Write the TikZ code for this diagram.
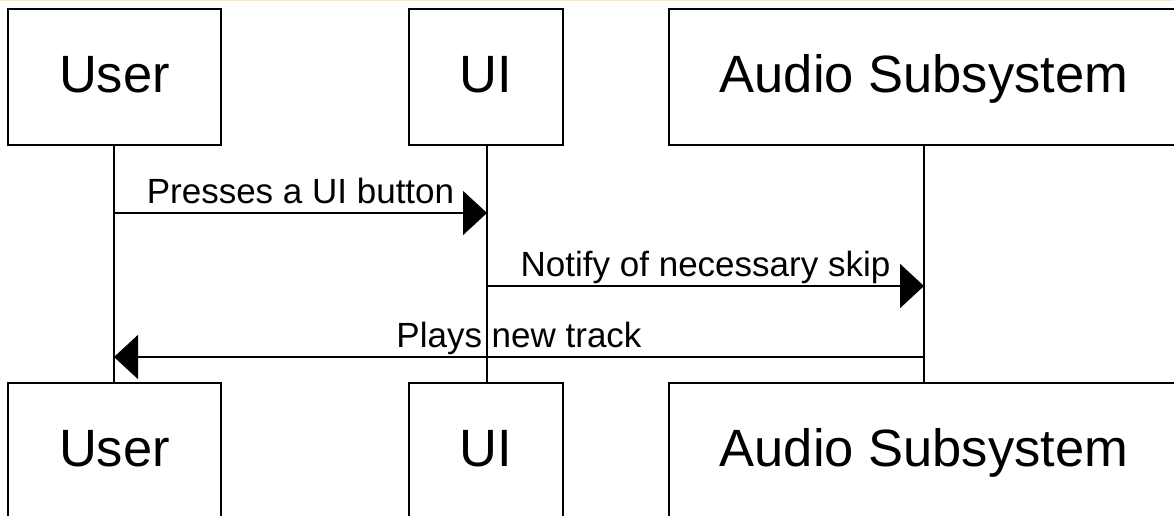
\documentclass[tikz,border=0pt]{standalone}
\usepackage{fontspec}
\setmainfont{Liberation Sans}
\usetikzlibrary{arrows.meta}
\definecolor{topedge}{RGB}{255,230,190}
\begin{document}
\begin{tikzpicture}[x=1pt,y=-1pt,
  actor/.style={draw=black, line width=1.8pt, fill=white, inner sep=0pt,
    minimum height=136pt, font=\fontsize{52.5}{60}\selectfont,
    text height=37pt, text depth=6pt},
  life/.style={draw=black, line width=1.8pt},
  msg/.style={draw=black, line width=1.8pt, -{Triangle[length=24pt,width=44pt]}},
  lbl/.style={anchor=base, yshift=10pt, font=\fontsize{35}{40}\selectfont}]
\useasboundingbox (0,0) rectangle (1174,516);
\clip (0,0) rectangle (1174,516);
\draw[topedge, line width=1.5pt] (0,0.5) -- (1174,0.5);
% lifelines first (under boxes)
\coordinate (uL) at (114,145);
\coordinate (uiL) at (487,145);
\coordinate (aL) at (924,145);
\coordinate (uLb) at (114,383);
\coordinate (uiLb) at (487,383);
\coordinate (aLb) at (924,383);
\draw[life] (uL) -- (uLb);
\draw[life] (uiL) -- (uiLb);
\draw[life] (aL) -- (aLb);
% actor boxes
\node[actor, minimum width=213pt] (uTop) at (114.5,77) {User};
\node[actor, minimum width=154pt] (uiTop) at (486,77) {UI};
\node[actor, minimum width=510pt] (aTop) at (924,77) {Audio Subsystem};
\node[actor, minimum width=213pt] (uBot) at (114.5,451) {User};
\node[actor, minimum width=154pt] (uiBot) at (486,451) {UI};
\node[actor, minimum width=510pt] (aBot) at (924,451) {Audio Subsystem};
% messages
\coordinate (m1a) at (114,213);
\coordinate (m1b) at (487,213);
\coordinate (m2a) at (487,286);
\coordinate (m2b) at (924,286);
\coordinate (m3a) at (924,357);
\coordinate (m3b) at (114,357);
\draw[msg] (m1a) -- (m1b) node[midway, lbl] (l1) {Presses a UI button};
\draw[msg] (m2a) -- (m2b) node[midway, lbl] (l2) {Notify of necessary skip};
\draw[msg] (m3a) -- (m3b) node[midway, lbl] (l3) {Plays new track};
\end{tikzpicture}
\end{document}
